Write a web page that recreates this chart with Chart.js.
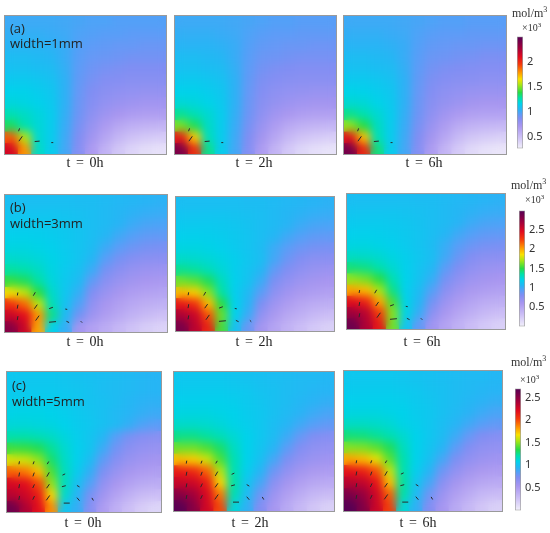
<!DOCTYPE html>
<html>
<head>
<meta charset="utf-8">
<script src="https://cdn.jsdelivr.net/npm/chart.js@4.4.1/dist/chart.umd.min.js"></script>
<style>
body{margin:0;width:550px;height:533px;background:#fff;position:relative;overflow:hidden}
canvas{position:absolute}
.p{position:absolute;overflow:hidden;outline:1px solid #9a9a9a}
.t{position:absolute;font:14px "Liberation Serif",serif;color:#222;transform:translate(-50%,-50%);white-space:pre;word-spacing:2px}
.lab{position:absolute;font:13px "Open Sans",sans-serif;color:#222;line-height:16px;transform:translateY(-50%)}
.unit{position:absolute;font:12px "Liberation Serif",serif;color:#333;white-space:pre;transform:translateY(-50%)}
.unit sup{font-size:8px;vertical-align:5px}
.exp{position:absolute;font:10px "Liberation Serif",serif;color:#333;transform:translateY(-50%)}
.exp sup{font-size:7px;vertical-align:4px}
</style>
</head>
<body>
<script>
// concentration in mol/m3 x10^3, 12 columns (left -> right), rows top -> bottom

// (a) width = 1mm
const a0h = [
  [1.01,1.01,1.01,1.01,1.00,0.99,0.98,0.98,0.97,0.97,0.97,0.97],
  [1.03,1.03,1.03,1.02,1.01,0.98,0.97,0.96,0.96,0.95,0.95,0.95],
  [1.05,1.05,1.05,1.04,1.02,0.97,0.95,0.94,0.93,0.93,0.92,0.92],
  [1.08,1.08,1.07,1.06,1.02,0.96,0.93,0.92,0.91,0.90,0.90,0.90],
  [1.10,1.10,1.09,1.08,1.03,0.95,0.91,0.89,0.88,0.87,0.87,0.87],
  [1.13,1.13,1.12,1.10,1.04,0.94,0.89,0.86,0.85,0.84,0.84,0.84],
  [1.16,1.16,1.14,1.12,1.04,0.93,0.87,0.83,0.81,0.80,0.79,0.79],
  [1.19,1.18,1.16,1.13,1.04,0.92,0.85,0.80,0.77,0.75,0.74,0.74],
  [1.26,1.23,1.19,1.14,1.03,0.91,0.82,0.75,0.71,0.68,0.67,0.67],
  [1.36,1.27,1.20,1.14,1.02,0.89,0.78,0.69,0.62,0.58,0.56,0.55],
  [1.90,1.56,1.21,1.14,1.01,0.87,0.74,0.63,0.54,0.48,0.45,0.43],
  [2.15,1.80,1.23,1.14,1.00,0.85,0.69,0.56,0.46,0.39,0.35,0.33]
];
const a2h = [
  [1.01,1.01,1.01,1.01,1.00,0.99,0.98,0.97,0.97,0.96,0.96,0.96],
  [1.03,1.03,1.03,1.02,1.01,0.98,0.96,0.95,0.95,0.94,0.94,0.94],
  [1.05,1.05,1.05,1.04,1.02,0.97,0.94,0.93,0.92,0.92,0.91,0.91],
  [1.08,1.08,1.07,1.06,1.02,0.96,0.92,0.91,0.90,0.89,0.89,0.89],
  [1.10,1.10,1.09,1.08,1.03,0.95,0.90,0.88,0.87,0.86,0.86,0.86],
  [1.13,1.13,1.12,1.10,1.04,0.94,0.88,0.85,0.84,0.83,0.83,0.83],
  [1.16,1.16,1.14,1.12,1.04,0.93,0.86,0.82,0.80,0.79,0.78,0.78],
  [1.20,1.19,1.17,1.13,1.04,0.92,0.84,0.79,0.76,0.74,0.73,0.73],
  [1.30,1.26,1.21,1.14,1.03,0.91,0.81,0.74,0.70,0.67,0.66,0.66],
  [1.49,1.37,1.23,1.14,1.02,0.89,0.77,0.68,0.61,0.57,0.55,0.54],
  [2.05,1.70,1.25,1.14,1.01,0.87,0.73,0.62,0.53,0.47,0.44,0.42],
  [2.40,2.00,1.31,1.14,1.00,0.85,0.68,0.55,0.45,0.38,0.34,0.32]
];
const a6h = [
  [1.01,1.01,1.01,1.01,1.00,0.99,0.98,0.97,0.97,0.96,0.96,0.96],
  [1.03,1.03,1.03,1.02,1.01,0.98,0.96,0.95,0.95,0.94,0.94,0.94],
  [1.05,1.05,1.05,1.04,1.02,0.97,0.94,0.93,0.92,0.92,0.91,0.91],
  [1.08,1.08,1.07,1.06,1.02,0.96,0.92,0.91,0.90,0.89,0.88,0.88],
  [1.10,1.10,1.09,1.08,1.03,0.95,0.90,0.88,0.87,0.86,0.85,0.85],
  [1.13,1.13,1.12,1.10,1.04,0.94,0.88,0.85,0.84,0.83,0.82,0.82],
  [1.17,1.16,1.14,1.12,1.04,0.93,0.86,0.82,0.80,0.78,0.77,0.77],
  [1.21,1.20,1.17,1.13,1.04,0.92,0.84,0.79,0.76,0.73,0.72,0.72],
  [1.31,1.27,1.21,1.14,1.03,0.91,0.81,0.74,0.69,0.66,0.65,0.65],
  [1.52,1.39,1.24,1.14,1.02,0.89,0.77,0.68,0.60,0.56,0.54,0.53],
  [2.08,1.72,1.26,1.14,1.01,0.87,0.73,0.62,0.52,0.46,0.43,0.41],
  [2.42,2.02,1.33,1.14,1.00,0.85,0.68,0.55,0.44,0.37,0.33,0.31]
];

// (b) width = 3mm
const b0h = [
  [1.10,1.10,1.10,1.10,1.10,1.09,1.09,1.08,1.07,1.06,1.05,1.04],
  [1.13,1.13,1.13,1.13,1.12,1.11,1.10,1.08,1.06,1.04,1.02,1.01],
  [1.16,1.16,1.16,1.15,1.14,1.12,1.10,1.08,1.05,1.00,0.97,0.96],
  [1.19,1.19,1.18,1.17,1.15,1.13,1.10,1.06,0.99,0.94,0.91,0.90],
  [1.22,1.22,1.21,1.19,1.16,1.13,1.09,1.00,0.92,0.87,0.84,0.83],
  [1.27,1.26,1.24,1.21,1.17,1.13,1.06,0.93,0.84,0.79,0.76,0.75],
  [1.36,1.34,1.29,1.22,1.16,1.11,1.00,0.84,0.76,0.70,0.67,0.66],
  [1.52,1.47,1.36,1.24,1.15,1.08,0.90,0.76,0.68,0.63,0.60,0.58],
  [1.85,1.75,1.50,1.28,1.14,1.02,0.80,0.68,0.60,0.55,0.52,0.50],
  [2.30,2.15,1.75,1.32,1.12,0.95,0.72,0.60,0.53,0.47,0.43,0.41],
  [2.55,2.45,2.05,1.40,1.08,0.85,0.65,0.55,0.47,0.40,0.34,0.30],
  [2.80,2.55,2.00,1.20,1.02,0.62,0.52,0.44,0.36,0.28,0.22,0.18]
];
const b2h = [
  [1.10,1.10,1.10,1.10,1.10,1.09,1.09,1.08,1.07,1.06,1.05,1.04],
  [1.13,1.13,1.13,1.13,1.12,1.11,1.10,1.08,1.06,1.04,1.02,1.01],
  [1.16,1.16,1.16,1.15,1.14,1.12,1.10,1.08,1.05,1.00,0.97,0.96],
  [1.19,1.19,1.18,1.17,1.15,1.13,1.10,1.06,0.99,0.94,0.91,0.90],
  [1.22,1.22,1.21,1.19,1.16,1.13,1.09,1.00,0.92,0.87,0.84,0.83],
  [1.28,1.27,1.25,1.22,1.18,1.14,1.10,0.98,0.87,0.80,0.76,0.75],
  [1.39,1.37,1.32,1.25,1.18,1.13,1.06,0.90,0.80,0.73,0.69,0.67],
  [1.62,1.58,1.47,1.31,1.19,1.12,1.00,0.82,0.72,0.66,0.62,0.60],
  [1.95,1.90,1.65,1.36,1.18,1.08,0.92,0.74,0.64,0.58,0.55,0.53],
  [2.40,2.30,1.95,1.50,1.20,1.05,0.82,0.65,0.56,0.49,0.45,0.43],
  [2.65,2.55,2.20,1.60,1.20,1.00,0.72,0.58,0.48,0.42,0.36,0.32],
  [2.85,2.60,2.35,1.55,1.12,0.88,0.62,0.50,0.40,0.32,0.25,0.20]
];
const b6h = [
  [1.10,1.10,1.10,1.10,1.10,1.09,1.09,1.08,1.07,1.06,1.05,1.04],
  [1.13,1.13,1.13,1.13,1.12,1.11,1.10,1.08,1.06,1.04,1.02,1.01],
  [1.16,1.16,1.16,1.15,1.14,1.12,1.10,1.08,1.05,1.00,0.97,0.96],
  [1.19,1.19,1.18,1.17,1.15,1.13,1.10,1.06,0.99,0.94,0.91,0.90],
  [1.22,1.22,1.21,1.19,1.16,1.13,1.09,1.01,0.93,0.87,0.84,0.83],
  [1.29,1.28,1.26,1.22,1.18,1.14,1.10,0.99,0.88,0.80,0.76,0.75],
  [1.42,1.40,1.34,1.26,1.19,1.13,1.07,0.92,0.81,0.73,0.69,0.67],
  [1.67,1.62,1.50,1.33,1.20,1.12,1.02,0.84,0.73,0.66,0.62,0.60],
  [2.00,1.95,1.70,1.40,1.19,1.09,0.94,0.76,0.65,0.58,0.55,0.53],
  [2.45,2.35,2.00,1.55,1.21,1.06,0.85,0.67,0.57,0.50,0.45,0.43],
  [2.70,2.60,2.25,1.65,1.22,1.01,0.75,0.59,0.49,0.42,0.36,0.32],
  [2.90,2.65,2.40,1.62,1.14,0.90,0.64,0.51,0.41,0.32,0.25,0.20]
];

// (c) width = 5mm
const c0h = [
  [1.03,1.03,1.03,1.03,1.02,1.01,1.00,0.99,0.98,0.97,0.96,0.95],
  [1.04,1.04,1.04,1.04,1.03,1.02,1.01,0.99,0.98,0.97,0.96,0.95],
  [1.06,1.06,1.06,1.06,1.05,1.03,1.01,1.00,0.98,0.96,0.94,0.93],
  [1.09,1.09,1.09,1.08,1.06,1.04,1.02,1.00,0.97,0.95,0.92,0.90],
  [1.12,1.12,1.11,1.10,1.08,1.05,1.03,1.00,0.97,0.92,0.86,0.83],
  [1.21,1.21,1.19,1.16,1.11,1.06,1.02,0.96,0.84,0.75,0.70,0.68],
  [1.38,1.37,1.33,1.24,1.14,1.07,1.02,0.90,0.77,0.68,0.64,0.62],
  [1.62,1.60,1.50,1.30,1.16,1.07,0.98,0.82,0.70,0.62,0.58,0.56],
  [1.95,1.90,1.75,1.40,1.18,1.05,0.92,0.74,0.62,0.55,0.51,0.49],
  [2.25,2.20,2.00,1.50,1.18,1.00,0.85,0.65,0.54,0.47,0.42,0.40],
  [2.35,2.28,2.15,1.70,1.15,0.95,0.75,0.58,0.46,0.37,0.31,0.28],
  [2.60,2.38,2.20,1.85,1.02,0.92,0.70,0.50,0.38,0.28,0.20,0.15]
];
const c2h = [
  [1.03,1.03,1.03,1.03,1.02,1.01,1.00,0.99,0.98,0.97,0.97,0.96],
  [1.05,1.05,1.05,1.05,1.04,1.03,1.01,1.00,0.98,0.97,0.96,0.95],
  [1.07,1.07,1.07,1.07,1.06,1.04,1.02,1.00,0.98,0.96,0.94,0.92],
  [1.10,1.10,1.10,1.09,1.08,1.05,1.03,1.00,0.97,0.94,0.90,0.87],
  [1.15,1.15,1.14,1.12,1.09,1.06,1.03,0.99,0.95,0.89,0.84,0.81],
  [1.26,1.26,1.23,1.19,1.13,1.08,1.03,0.98,0.90,0.80,0.73,0.70],
  [1.45,1.45,1.40,1.30,1.17,1.08,1.02,0.95,0.83,0.72,0.66,0.64],
  [1.75,1.72,1.60,1.40,1.20,1.08,1.00,0.88,0.74,0.65,0.60,0.58],
  [2.15,2.10,1.95,1.55,1.20,1.06,0.95,0.78,0.65,0.57,0.52,0.50],
  [2.30,2.28,2.15,1.70,1.22,1.02,0.88,0.68,0.56,0.48,0.43,0.41],
  [2.52,2.42,2.25,1.90,1.20,0.98,0.78,0.60,0.48,0.40,0.33,0.30],
  [2.68,2.52,2.27,2.00,1.12,0.93,0.72,0.55,0.42,0.32,0.24,0.18]
];
const c6h = [
  [1.03,1.03,1.03,1.03,1.02,1.01,1.00,0.99,0.98,0.97,0.97,0.96],
  [1.05,1.05,1.05,1.05,1.04,1.03,1.01,1.00,0.98,0.97,0.96,0.95],
  [1.07,1.07,1.07,1.07,1.06,1.04,1.02,1.00,0.98,0.96,0.94,0.92],
  [1.10,1.10,1.10,1.09,1.08,1.05,1.03,1.00,0.97,0.94,0.90,0.87],
  [1.16,1.16,1.15,1.13,1.09,1.06,1.03,0.99,0.95,0.89,0.84,0.81],
  [1.28,1.27,1.24,1.20,1.14,1.08,1.03,0.98,0.90,0.80,0.73,0.70],
  [1.48,1.47,1.42,1.32,1.18,1.08,1.02,0.95,0.83,0.72,0.66,0.64],
  [1.80,1.76,1.64,1.42,1.21,1.08,1.00,0.88,0.74,0.65,0.60,0.58],
  [2.18,2.13,1.98,1.58,1.21,1.06,0.95,0.78,0.65,0.57,0.52,0.50],
  [2.35,2.32,2.18,1.75,1.23,1.02,0.88,0.68,0.56,0.48,0.43,0.41],
  [2.56,2.46,2.28,1.95,1.22,0.98,0.78,0.60,0.48,0.40,0.33,0.30],
  [2.69,2.54,2.29,2.02,1.13,0.93,0.72,0.55,0.42,0.32,0.24,0.18]
];

// flux arrows near the electrode: [x, y] as fraction of the domain (y from bottom), direction (deg), length (px)
const arrowsA = [[0.06,0.15,70,3],[0.07,0.08,55,6],[0.18,0.06,5,5],[0.28,0.05,0,2]];
const arrowsB = [
  [0.05,0.26,80,3],[0.05,0.16,80,4],[0.05,0.07,80,4],
  [0.16,0.26,60,4],[0.17,0.16,55,5],[0.18,0.07,55,6],
  [0.27,0.15,20,4],[0.28,0.04,5,7],[0.37,0.14,-10,2],[0.38,0.04,-25,3],[0.47,0.04,-45,2]
];
const arrowsC = [
  [0.05,0.34,80,3],[0.05,0.25,80,4],[0.05,0.16,80,4],[0.05,0.07,80,4],
  [0.15,0.34,70,3],[0.15,0.25,70,4],[0.15,0.16,65,4],[0.15,0.07,65,4],
  [0.25,0.34,60,3],[0.25,0.25,60,5],[0.25,0.16,55,5],[0.25,0.07,55,6],
  [0.36,0.25,25,3],[0.36,0.16,15,4],[0.38,0.03,0,6],
  [0.46,0.16,-30,3],[0.46,0.06,-50,4],[0.56,0.06,-60,3]
];

// colour bar ranges (x10^3) and tick labels
const rangeA = [0.26, 2.52];
const rangeB = [0, 3.0];
const rangeC = [0, 2.7];
const ticksA = [0.5, 1, 1.5, 2];
const ticksB = [0.5, 1, 1.5, 2, 2.5];
const ticksC = [0.5, 1, 1.5, 2, 2.5];
const times = ['t = 0h', 't = 2h', 't = 6h'];
const widths = ['width=1mm', 'width=3mm', 'width=5mm'];

// colour map (normalised position -> rgb)
const cmapPos = [0, .10, .20, .27, .31, .35, .40, .45, .50, .57, .62, .68, .75, .82, .90, 1];
const cmapRgb = [
  [242,240,250],[205,192,246],[168,150,240],[128,142,243],[88,158,247],[40,180,245],
  [0,210,235],[0,225,170],[40,220,70],[170,230,20],[250,225,0],[255,150,0],
  [245,60,10],[225,10,30],[160,0,60],[85,0,85]
];
function colour(t) {
  t = Math.max(0, Math.min(1, t));
  let i = 1;
  while (i < cmapPos.length - 1 && t > cmapPos[i]) i++;
  const f = (t - cmapPos[i-1]) / (cmapPos[i] - cmapPos[i-1]);
  const a = cmapRgb[i-1], b = cmapRgb[i];
  return 'rgb(' + a.map((v, k) => Math.round(v + (b[k] - v) * f)).join(',') + ')';
}

Chart.defaults.font.family = '"Noto Sans", sans-serif';

function addCanvas(parent, x, y, w, h) {
  const c = document.createElement('canvas');
  c.width = w; c.height = h;
  c.style.left = x + 'px'; c.style.top = y + 'px';
  c.style.width = w + 'px'; c.style.height = h + 'px';
  parent.appendChild(c);
  return c;
}
function addText(cls, x, y, html) {
  const d = document.createElement('div');
  d.className = cls;
  d.style.left = x + 'px'; d.style.top = y + 'px';
  d.innerHTML = html;
  document.body.appendChild(d);
}

const quiet = {
  responsive: false,
  animation: false,
  events: [],
  layout: { padding: 0 },
  plugins: { legend: { display: false }, tooltip: { enabled: false } }
};

// each panel: a sharp cell layer, a softened copy on top (the field is smooth in the original), then arrows
function heatmap(box, grid, range, arrows) {
  const wrap = document.createElement('div');
  wrap.className = 'p';
  wrap.style.left = box[0] + 'px'; wrap.style.top = box[1] + 'px';
  wrap.style.width = box[2] + 'px'; wrap.style.height = box[3] + 'px';
  document.body.appendChild(wrap);
  const rows = grid.length;
  [false, true].forEach(soft => {
    const datasets = grid.map((row, j) => ({
      data: row.map(() => [rows - 1 - j, rows - j]),
      backgroundColor: row.map(v => colour((v - range[0]) / (range[1] - range[0]))),
      grouped: false,
      barPercentage: 1,
      categoryPercentage: 1,
      borderWidth: 0,
      inflateAmount: 0.6
    }));
    const cv = addCanvas(wrap, 0, 0, box[2], box[3]);
    if (soft) cv.style.filter = 'blur(4px)';
    new Chart(cv, {
      type: 'bar',
      data: { labels: grid[0].map((v, i) => i), datasets },
      options: Object.assign({}, quiet, {
        scales: { x: { display: false }, y: { display: false, min: 0, max: rows } }
      })
    });
  });
  new Chart(addCanvas(wrap, 0, 0, box[2], box[3]), {
    type: 'scatter',
    data: {
      datasets: [{
        data: arrows.map(a => ({ x: a[0], y: a[1] })),
        pointStyle: 'line',
        pointRadius: arrows.map(a => a[3] / 2),
        rotation: arrows.map(a => -a[2]),
        borderColor: '#2a2a2a',
        borderWidth: 1
      }]
    },
    options: Object.assign({}, quiet, {
      scales: { x: { display: false, min: 0, max: 1 }, y: { display: false, min: 0, max: 1 } }
    })
  });
}

function colourbar(left, top, height, range, ticks) {
  new Chart(addCanvas(document.body, left, top - 10, 34, height + 20), {
    type: 'bar',
    data: {
      labels: [''],
      datasets: [{
        data: [range],
        backgroundColor: ctx => {
          const area = ctx.chart.chartArea;
          if (!area) return null;
          const g = ctx.chart.ctx.createLinearGradient(0, area.bottom, 0, area.top);
          cmapPos.forEach(p => g.addColorStop(p, colour(p)));
          return g;
        },
        borderColor: '#a0a0a0',
        borderWidth: 1,
        borderSkipped: false,
        barPercentage: 1,
        categoryPercentage: 1
      }]
    },
    options: Object.assign({}, quiet, {
      layout: { padding: { top: 10, bottom: 10, left: 0, right: 0 } },
      scales: {
        x: { display: false },
        y: {
          position: 'right',
          min: range[0], max: range[1],
          grid: { display: false, drawTicks: false },
          border: { display: false },
          afterBuildTicks: s => { s.ticks = ticks.map(v => ({ value: v })); },
          afterFit: s => { s.width = 28; },
          ticks: { color: '#333', font: { size: 11 }, padding: 4, callback: v => String(v) }
        }
      }
    })
  });
}

const rowsOfPanels = [
  { grids: [a0h, a2h, a6h], range: rangeA, ticks: ticksA, arrows: arrowsA, tag: '(a)',
    boxes: [[5,16,161,138],[175,16,161,138],[344,16,162,138]],
    timeY: 163, timeX: [85,254,424], tagY: [28,43],
    cb: [517,36,113], unitY: [13,27], unitX: [512,522] },
  { grids: [b0h, b2h, b6h], range: rangeB, ticks: ticksB, arrows: arrowsB, tag: '(b)',
    boxes: [[5,195,162,137],[176,197,158,134],[347,194,158,135]],
    timeY: 342, timeX: [85,254,422], tagY: [207,223],
    cb: [519,210,117], unitY: [185,199], unitX: [511,525] },
  { grids: [c0h, c2h, c6h], range: rangeC, ticks: ticksC, arrows: arrowsC, tag: '(c)',
    boxes: [[7,372,154,140],[174,372,160,139],[344,371,158,140]],
    timeY: 523, timeX: [83,250,418], tagY: [385,401],
    cb: [515,388,123], unitY: [362,379], unitX: [511,520] }
];

rowsOfPanels.forEach((r, k) => {
  r.grids.forEach((g, i) => {
    heatmap(r.boxes[i], g, r.range, r.arrows);
    addText('t', r.timeX[i], r.timeY, times[i]);
  });
  addText('lab', r.boxes[0][0] + 5, r.tagY[0], r.tag);
  addText('lab', r.boxes[0][0] + 5, r.tagY[1], widths[k]);
  colourbar(r.cb[0], r.cb[1], r.cb[2], r.range, r.ticks);
  addText('unit', r.unitX[0], r.unitY[0], 'mol/m<sup>3</sup>');
  addText('exp', r.unitX[1], r.unitY[1], '×10<sup>3</sup>');
});
</script>
</body>
</html>
